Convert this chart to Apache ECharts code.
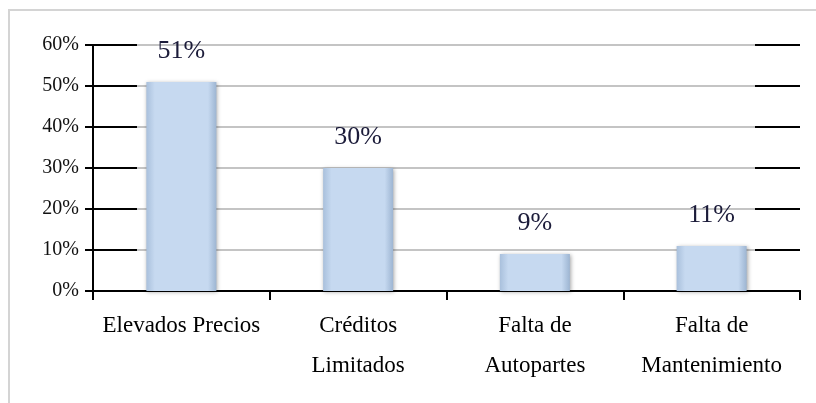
<!DOCTYPE html>
<html>
<head>
<meta charset="utf-8">
<script src="https://cdn.jsdelivr.net/npm/echarts@6/dist/echarts.min.js"></script>
<style>
  html, body { margin: 0; padding: 0; background: #fff; }
  #chart { width: 816px; height: 403px; }
</style>
</head>
<body>
<div id="chart"></div>
<script>
// datos
var categorias = ["Elevados Precios", "Créditos\nLimitados", "Falta de\nAutopartes", "Falta de\nMantenimiento"];
var valores = [51, 30, 9, 11];
var ejeMin = 0;
var ejeMax = 60;
var ejePaso = 10;

var fuente = "Liberation Serif";

var myChart = echarts.init(document.getElementById("chart"));

var option = {
  animation: false,
  backgroundColor: "#fff",
  graphic: [
    {
      type: "rect",
      shape: { x: 9, y: 10, width: 830, height: 420 },
      style: { fill: "none", stroke: "#d4d4d4", lineWidth: 2 },
      silent: true
    }
  ],
  grid: { left: 93, top: 45, right: 16, bottom: 112 },
  xAxis: [
    {
      type: "category",
      data: categorias,
      axisLine: { lineStyle: { color: "#000", width: 2 } },
      axisTick: { show: true, length: 9, lineStyle: { color: "#000", width: 2 } },
      axisLabel: {
        fontFamily: fuente,
        fontSize: 23,
        color: "#000",
        lineHeight: 40,
        margin: 15,
        interval: 0
      }
    },
    {
      // linea superior del 60%
      type: "category",
      position: "top",
      data: categorias,
      axisLine: { show: true, lineStyle: { color: "#000", width: 2 } },
      axisTick: { show: false },
      axisLabel: { show: false }
    }
  ],
  yAxis: [
    {
      type: "value",
      min: ejeMin,
      max: ejeMax,
      interval: ejePaso,
      axisLine: { show: true, lineStyle: { color: "#000", width: 2 } },
      axisTick: { show: true, length: 8, lineStyle: { color: "#000", width: 2 } },
      axisLabel: {
        formatter: "{value}%",
        fontFamily: fuente,
        fontSize: 20,
        color: "#111",
        margin: 14
      },
      splitLine: { show: true, lineStyle: { color: "#c4c4c4", width: 2 } }
    },
    {
      // marcas largas hacia dentro, lado izquierdo
      type: "value",
      position: "left",
      min: ejeMin,
      max: ejeMax,
      interval: ejePaso,
      axisLine: { show: false },
      axisTick: { show: true, inside: true, length: 44, lineStyle: { color: "#000", width: 2 } },
      axisLabel: { show: false },
      splitLine: { show: false }
    },
    {
      // marcas del lado derecho
      type: "value",
      position: "right",
      min: ejeMin,
      max: ejeMax,
      interval: ejePaso,
      axisLine: { show: false },
      axisTick: { show: true, inside: true, length: 45, lineStyle: { color: "#000", width: 2 } },
      axisLabel: { show: false },
      splitLine: { show: false }
    }
  ],
  series: [
    {
      type: "bar",
      data: valores,
      barWidth: 70,
      itemStyle: {
        color: {
          type: "linear", x: 0, y: 0, x2: 1, y2: 0,
          colorStops: [
            { offset: 0, color: "#a9c0dc" },
            { offset: 0.12, color: "#c6d9f0" },
            { offset: 0.88, color: "#c6d9f0" },
            { offset: 1, color: "#9db5d2" }
          ]
        },
        shadowBlur: 4,
        shadowColor: "rgba(0,0,0,0.35)",
        shadowOffsetX: 1,
        shadowOffsetY: 1
      },
      label: {
        show: true,
        position: "top",
        distance: 18,
        formatter: "{c}%",
        fontFamily: fuente,
        fontSize: 26,
        color: "#1c1c3a"
      }
    }
  ]
};

myChart.setOption(option);
</script>
</body>
</html>
